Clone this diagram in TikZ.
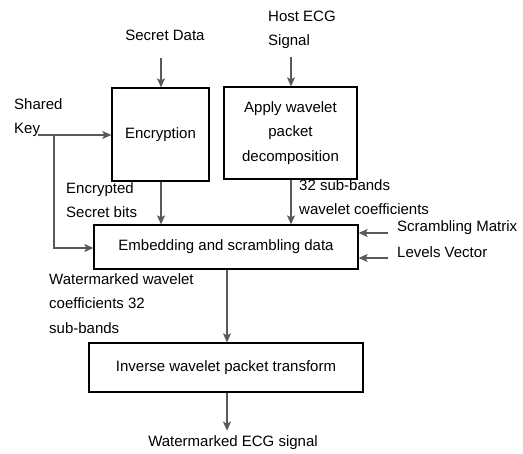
\documentclass[tikz,border=0pt]{standalone}
\usepackage{fontspec}
\setmainfont{Liberation Sans}
\usetikzlibrary{arrows.meta}
\begin{document}
\begin{tikzpicture}[x=1pt,y=-1pt,
  every node/.style={font=\fontsize{15}{24.5}\selectfont, inner sep=0pt},
  box/.style={draw=black, line width=1.3pt, align=center},
  lbl/.style={align=left, anchor=west},
  arr/.style={draw=black!65, line width=1.2pt, -{Stealth[length=9pt,width=8pt,inset=2pt]}}]
\useasboundingbox (0,0) rectangle (523,454);
% boxes
\node[box, minimum width=97pt, minimum height=93pt] (enc) at (160.5,134.5) {Encryption};
\node[box, minimum width=133pt, minimum height=92pt] (wpd) at (290.5,133) {Apply wavelet\\packet\\decomposition};
\node[box, minimum width=264pt, minimum height=44pt] (emb) at (226,247) {Embedding and scrambling data};
\node[box, minimum width=274pt, minimum height=49pt] (inv) at (226,367.5) {Inverse wavelet packet transform};
% labels
\node (secret) at (165,35) {Secret Data};
\node[lbl] (host) at (268,30) {Host ECG\\Signal};
\node[lbl] (shared) at (14,117.5) {Shared\\Key};
\node[lbl] (encl) at (66,200) {Encrypted\\Secret bits};
\node[lbl] (subl) at (299,197) {32 sub-bands\\ wavelet coefficients};
\node[lbl] (scr) at (397,228) {Scrambling Matrix};
\node[lbl] (lev) at (397,252) {Levels Vector};
\node[lbl] (wml) at (49,303.5) {Watermarked wavelet\\coefficients 32\\sub-bands};
\node (out) at (233,443) {Watermarked ECG signal};
% helper coordinates
\coordinate (sd) at (161,58);
\coordinate (hs) at (291,57);
\coordinate (ks) at (38,135);
\coordinate (kb) at (54,135);
\coordinate (kc) at (54,248);
\coordinate (sm) at (388,233);
\coordinate (lv) at (388,258);
% connectors
\draw[arr] (sd) -- (sd |- enc.north);
\draw[arr] (hs) -- (hs |- wpd.north);
\draw[arr] (ks) -- (ks -| enc.west);
\draw[arr] (kb) -- (kc) -- (kc -| emb.west);
\draw[arr] (sd |- enc.south) -- (sd |- emb.north);
\draw[arr] (hs |- wpd.south) -- (hs |- emb.north);
\draw[arr] (sm) -- (sm -| emb.east);
\draw[arr] (lv) -- (lv -| emb.east);
\draw[arr] ([xshift=1pt]emb.south) -- ([xshift=1pt]inv.north);
\draw[arr] ([xshift=1pt]inv.south) -- ++(0,38);
\end{tikzpicture}
\end{document}
